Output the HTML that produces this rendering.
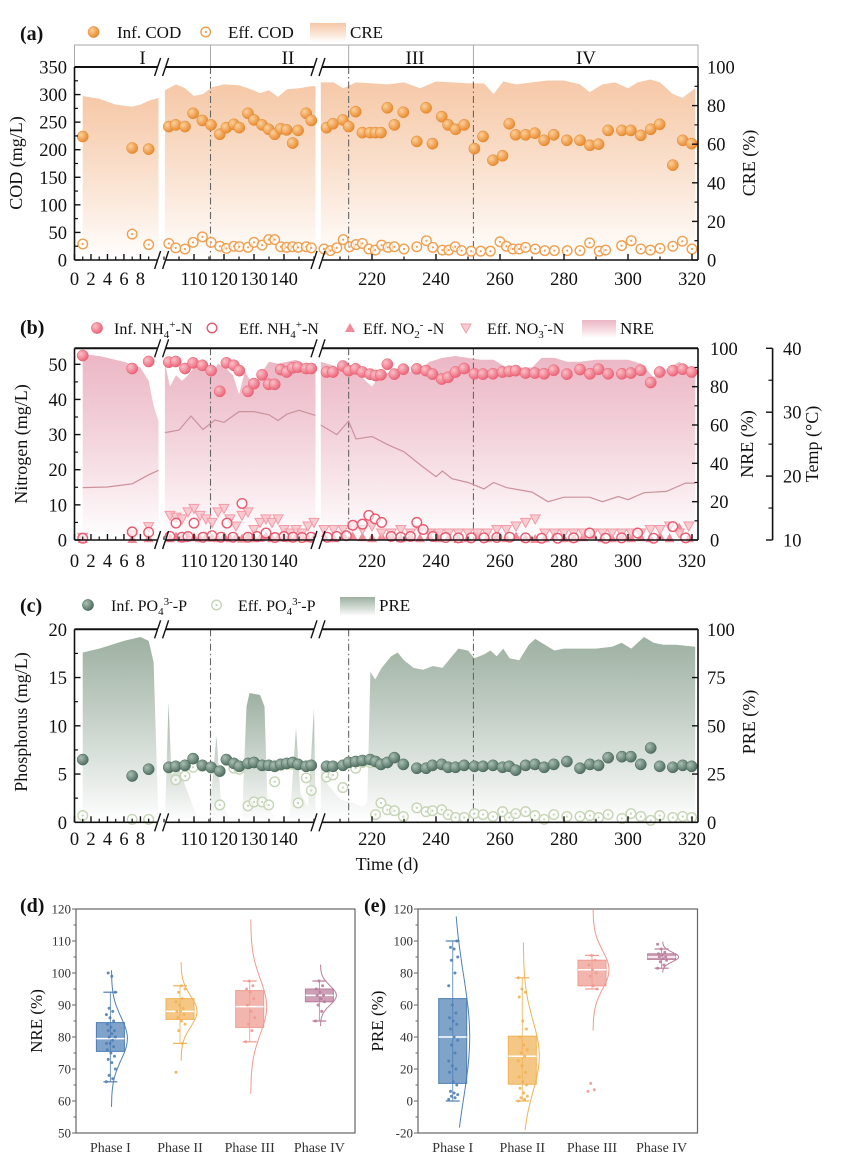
<!DOCTYPE html>
<html><head><meta charset="utf-8">
<style>
html,body{margin:0;padding:0;background:#fff;}
svg{display:block;font-family:"Liberation Serif",serif;}
</style></head>
<body>
<svg id="fig" xmlns="http://www.w3.org/2000/svg" width="852" height="1176" viewBox="0 0 852 1176">
<defs>
<linearGradient id="gCRE" x1="0" y1="0" x2="0" y2="1"><stop offset="0" stop-color="#f4bf98" stop-opacity="0.85"/><stop offset="1" stop-color="#ffffff" stop-opacity="1"/></linearGradient>
<linearGradient id="gNRE" x1="0" y1="0" x2="0" y2="1"><stop offset="0" stop-color="#e8aabb" stop-opacity="0.85"/><stop offset="1" stop-color="#ffffff" stop-opacity="1"/></linearGradient>
<linearGradient id="gPRE" x1="0" y1="0" x2="0" y2="1"><stop offset="0" stop-color="#93a898" stop-opacity="0.9"/><stop offset="1" stop-color="#ffffff" stop-opacity="1"/></linearGradient>
<radialGradient id="rOr" cx="0.35" cy="0.35" r="0.7"><stop offset="0" stop-color="#fcd09a"/><stop offset="1" stop-color="#e8862a"/></radialGradient>
<radialGradient id="rPk" cx="0.35" cy="0.35" r="0.7"><stop offset="0" stop-color="#fbc0c8"/><stop offset="1" stop-color="#ea5f74"/></radialGradient>
<radialGradient id="rGr" cx="0.35" cy="0.35" r="0.7"><stop offset="0" stop-color="#a9bfb2"/><stop offset="1" stop-color="#4b6a5c"/></radialGradient>
</defs>
</svg>
<script>
// ---------------- DATA ----------------
const infDays = [1,7,9, 101.6,103.9,107,109.7,112.8,115.7,118.6,120.8,123.3,125.1,128,130,132.7,134.9,136.9,138.9,140.9,142.9,144.7,147.4,149.1,
 205.8,207.8,210.9,212.7,214.9,217,219.4,221.1,222.8,224.8,227,229.8,234,236.9,238.9,241.8,243.8,246.1,248.8,252,254.7,257.8,260.8,262.9,264.9,268,270.9,273.8,276.8,280.9,285,288.1,290.8,293.8,298.1,300.9,304,307.1,309.9,314,317.1,319.9];
const infCOD = [224,203,201, 242,245,242,266,253,245,228,240,246,240,266,254,245,237,228,238,236,212,235,266,253,
 240,247,254,242,269,231,231,231,231,276,245,268,215,276,211,260,245,237,245,202,224,181,189,247,227,227,230,217,227,217,217,208,210,235,235,235,226,237,246,172,217,211];
const effCODDays = [1,7,9, 101.6,103.9,107,109.7,112.8,115.7,118.6,120.8,123.3,125.1,128,130,132.7,134.9,136.9,138.9,140.9,142.9,144.7,147.4,149.1,
 205,207,209,211,213,215,217,219,221,223,225,227,230,234,237,239,242,244,246,248,251,254,257,260,262,264,266,268,271,274,277,281,285,288,291,293,298,301,304,307,310,314,317,320];
const effCOD = [29,47,28, 30,22,20,32,42,32,25,21,25,24,23,32,27,37,37,24,23,24,23,24,22,
 20,17,22,37,24,28,30,20,18,27,23,24,20,24,35,23,18,18,24,17,16,16,16,33,25,20,20,23,20,17,17,17,17,31,16,18,26,35,20,18,21,25,34,20];
const creDays = [1,3,5,7,8,9,10.2, 100.3,104,107,110,113,116,120,125,128,132,135,138,141,145,149,150.5,
 204,208,211,215,220,225,230,235,240,245,250,255,258,261,265,270,275,280,285,288,292,296,300,303,307,310,314,317,321];
const creVals = [85,83.5,80.5,79.5,80.5,82.5,84, 88,91,89,85,86,89.5,91,90.5,89,86.5,88,84.5,88.5,89,90,90,
 92,92,89,92,91.5,91,92,89,92.5,92,91.5,91.5,86,92.5,91,92,93,93,91,87,91,92,89,92,93.5,92,86,84,89];

const infNH4 = [52.5,48.8,50.8, 50.6,50.8,48.8,50.4,49.7,48.2,42.3,50.4,49.7,48.2,42.3,44.5,47,44.3,44.3,48.5,47.8,49,49.2,48.8,48.8,
 47.8,47.8,49.5,48.2,48.7,47.8,47.2,46.8,47,50,47.2,48.6,48.7,48.2,47.2,45.8,46.3,47.8,48.8,47.3,47.2,47.3,47.8,48,48.2,47.5,47.5,47.3,48.3,47.2,48.5,47.3,48.6,47.3,47.3,47.5,48.3,44.8,47.8,48.2,48.6,47.8];
const effNH4Days = [1,7,9, 102,104,106,108,110,113,116,119,121,123,126,128,131,134,137,140,143,146,149,
 206,209,212,214,217,219,221,223,226,229,232,234,236,239,243,247,251,255,259,263,268,273,278,283,288,293,298,303,308,314,318];
const effNH4 = [0.5,2.3,2.2, 1,4.8,0.8,1,4.8,0.8,1.2,0.8,4.8,0.8,10.4,0.8,1,2,0.7,1,0.8,0.7,0.8,
 0.8,1,1.2,4.2,4.5,7,6,5,1,0.8,1,5,3,1,0.7,0.6,0.6,0.6,0.7,0.8,0.6,0.5,0.5,0.6,2,0.5,0.6,2,0.5,3.8,0.6];
const noxDays = [1,7,9, 102,104,106,108,110,112,114,116,118,120,122,124,126,128,130,132,134,136,138,140,142,144,146,148,150,
 205,208,211,214,217,220,223,226,229,232,235,238,241,244,247,250,253,256,259,262,265,268,271,274,277,280,283,286,289,292,295,298,301,304,307,310,313,316,319];
const effNO3 = [0.8,1.5,3.8, 7,6.5,6,8,9,7,6,5,8,9,6,4,7,8,3,5,6,5,6,3,2,3,2,4,5,
 3,3,3,4,3,4,2,2,3,2,3,2,2,2,2,2,2,2,3,3,4,5,6,2,2,2,2,2,2,2,2,2,2,2,3,3,4,2,4];
const effNO2 = [0.3,0.3,0.5, 0.5,1,0.5,1.2,0.8,0.5,1,0.6,0.5,1,0.5,0.8,0.4,1,0.5,0.6,1,0.5,0.7,1,0.5,0.8,1,0.5,0.6,
 1,0.5,1.5,1,0.8,0.5,1,1.2,0.5,0.8,0.5,1,0.5,0.8,0.3,0.5,1,0.5,0.8,0.5,1,0.5,0.3,0.5,1,0.5,0.5,0.8,1.5,0.5,0.5,1,0.5,0.8,0.5,1,0.5,3.5,0.5];
const nreDays = [1,3,6,8,9,9.6,10.2, 100.3,102,104,106,108,110,113,116,118,121,123,125,127,130,132,135,138,141,144,148,150.5,
 204,208,212,215,218,220,222,226,230,235,238,242,246,250,254,258,262,266,270,273,277,281,285,290,295,300,304,308,312,316,319,321];
const nreVals = [97,96,93,90,83,70,62, 92,80,86,83,86,90,91,86,92,89,86,76,88,80,86,93,92,93,94,90,92,
 93,91,88,88,83,80,85,88,87,89,93,95,96,95,94,94,90,90,90,95,95,93,93,94,94,94,92,85,89,93,90,88];
const tempDays = [1,4,7,9,10.2, 100.3,105,109,113,117,120,125,130,135,138,141,145,150.5,
 204,209,212.7,215,220,225,230,235,240,242,245,250,255,258,262,270,275,280,288,292,297,300,305,312,318,321];
const tempVals = [18.2,18.3,18.8,20.2,20.9, 26.8,27.2,29.4,27.3,28.8,28.4,30.1,30.1,29.6,28.7,29.7,30.3,29.5,
 28.0,26.5,28.6,25.8,26.2,24.9,23.8,21.8,19.9,20.8,19.6,19.0,18.0,19.0,18.2,17.5,16.0,16.7,16.7,16.0,16.8,16.3,17.4,17.6,18.9,18.9];

const infPO4 = [6.5,4.8,5.5, 5.7,5.8,5.9,6.6,5.9,5.7,5.3,6.5,6.1,5.8,6.1,6.2,5.9,5.9,5.8,6.0,6.1,6.2,6.0,5.8,5.9,
 5.8,5.8,5.9,6.2,6.3,6.4,6.5,6.3,6.0,6.2,6.7,6.0,5.6,5.6,5.9,6.0,5.7,5.7,5.9,5.8,5.8,5.9,5.7,5.8,5.4,5.9,6.0,5.7,6.0,6.3,5.6,6.0,5.9,6.7,6.8,6.8,6.0,7.7,5.8,5.7,5.9,5.8];
const effPO4 = [0.7,0.3,0.3, 5.6,4.4,4.8,5.7,5.8,5.6,1.8,6.4,5.6,5.5,1.7,2.1,2.1,1.8,4.2,5.9,6.0,6.0,2.0,4.6,3.3,
 4.7,4.9,3.6,6.2,5.6,6.2,6.2,0.8,2.0,1.3,1.2,0.6,1.5,1.1,1.2,1.3,0.8,0.5,0.5,0.9,0.8,0.6,1.1,0.5,0.9,1.1,0.7,0.3,0.8,0.6,0.6,0.7,0.5,0.8,0.4,0.9,0.6,0.2,0.7,0.5,0.6,0.5];
const preDays = [1,3,6,8,9,9.6,10.2, 100.3,101.5,102.5,105,108,111,115,117.5,119,122,126,127.5,128.5,132,133.5,134.5,137,142,144,145.5,148,150,150.5,
 204,206,210,214,217,218.5,219.5,221,223,226,228,230,233,236,239,242,245,247,250,252,255,257,259,261,263,266,269,271,274,277,280,285,290,295,298,301,305,308,311,315,321];
const preVals = [88,90,94,96,94,83,0, 0,62,25,28,15,3,3,45,10,2,2,60,67,66,60,10,2,3,49,15,8,59,10,
 30,20,12,10,8,10,78,74,80,86,88,84,80,79,81,80,86,90,89,85,87,89,86,90,85,84,92,95,92,89,90,90,90,91,93,90,96,93,92,92,91];

// box plots
const phases = ["Phase I","Phase II","Phase III","Phase IV"];
const nreQ1 = [75.5,85.5,83,91], nreMed=[79.5,88,89.5,93], nreQ3=[84.5,92,94.5,95], nreLo=[66,78,78.5,85], nreHi=[94,96,97.5,97.5];
const preQ1 = [11,10.5,72,88.5], preMed=[40,28,82,90], preQ3=[64,40.5,88,92], preLo=[0,0,70,83], preHi=[100,77,91,95];
const nrePts = [[66,67,68,70,72,73,74,75,76,77,78,78,79,80,80,81,82,82,83,84,85,86,87,88,89,94,99,100],
 [69,78,82,84,85,86,87,88,88,89,90,91,92,94,95,96],
 [78.5,82,84,86,88,90,92,94,95,96,97.5],
 [85,88,90,91,92,93,93,94,95,96,97.5]];
const prePts = [[1,2,3,4,5,6,10,12,18,20,22,25,30,35,38,40,45,48,50,52,55,60,72,80,88,90,95,96,100],
 [0,1,2,3,5,8,10,12,15,18,22,25,28,30,32,35,40,45,50,65,68,70,77],
 [6,7,11,70,72,78,80,82,85,88,91],
 [83,85,87,88,89,90,90,91,92,93,95,98]];
const dividerDays = [115.5,212.7,251.7];

// ---------------- HELPERS ----------------
const NS='http://www.w3.org/2000/svg';
const svg=document.getElementById('fig');
const TF=18.5;
function mk(tag, attrs, parent){const e=document.createElementNS(NS,tag);for(const k in attrs)e.setAttribute(k,attrs[k]);(parent||svg).appendChild(e);return e;}
function grp(name){const g=mk('g',{});return g;}
function txt(x,y,s,o,parent){const t=mk('text',Object.assign({x:x,y:y,'font-size':17,fill:'#111'},o||{}),parent);t.textContent=s;return t;}
function X(d){ if(d<50) return 74.5+d*8.24; if(d<180) return 194+(d-110)*3; return 372+(d-220)*3.2; }
function segOf(d){return d<50?0:(d<180?1:2);}
const L=74.5,R=698;
const yA=v=>260-v*(193/350), yAR=p=>260-p*1.93;
const yB=v=>540-v*3.514, yBR=p=>540-p*1.917, yT=t=>540-(t-10)*6.39;
const yC=v=>822.3-v*9.65, yCR=p=>822.3-p*1.93;

function area(days,vals,yf,base,fill,name){
  const g=grp(name);
  for(let s=0;s<3;s++){
    const pts=[];
    for(let i=0;i<days.length;i++) if(segOf(days[i])===s) pts.push([X(days[i]),yf(vals[i])]);
    if(!pts.length) continue;
    let d='M'+pts[0][0]+','+base;
    pts.forEach(p=>d+=' L'+p[0].toFixed(1)+','+p[1].toFixed(1));
    d+=' L'+pts[pts.length-1][0]+','+base+' Z';
    const p=mk('path',{d:d,fill:fill,stroke:'none'},g);
    
    
  }
}
function line(days,vals,yf,color,name){
  const g=grp(name);
  for(let s=0;s<3;s++){
    const pts=[];
    for(let i=0;i<days.length;i++) if(segOf(days[i])===s) pts.push([X(days[i]),yf(vals[i])]);
    if(!pts.length) continue;
    const p=mk('polyline',{points:pts.map(q=>q[0].toFixed(1)+','+q[1].toFixed(1)).join(' '),fill:'none',stroke:color,'stroke-width':1.2},g);
    
    
  }
}
function marker(type,x,y,parent,c){
  let e;
  if(type==='fill'){ e=mk('circle',{cx:x,cy:y,r:5.6,fill:c.fill,stroke:c.stroke,'stroke-width':0.5},parent); }
  else if(type==='open'){ e=mk('g',{},parent);
    mk('circle',{cx:x,cy:y,r:4.8,fill:'#fff','fill-opacity':0.6,stroke:c.stroke,'stroke-width':1.4},e);
    if(c.dot) mk('circle',{cx:x,cy:y,r:1.1,fill:c.stroke},e); }
  else if(type==='tri'){ e=mk('path',{d:`M${x},${y-5} L${x+5},${y+4} L${x-5},${y+4} Z`,fill:c.fill,stroke:'none'},parent); }
  else { e=mk('path',{d:`M${x-5},${y-4} L${x+5},${y-4} L${x},${y+5} Z`,fill:c.fill,stroke:c.stroke,'stroke-width':1,'fill-opacity':0.8},parent); }
  return e;
}
function scatter(days,vals,yf,type,c,name){
  const g=grp(name);
  for(let i=0;i<days.length;i++){
    const m=marker(type,X(days[i]),yf(vals[i]),g,c);
    
    
  }
}
function dividers(top,bot){
  const g=grp('phase-dividers');
  dividerDays.forEach(d=>{
    const l=mk('line',{x1:X(d),x2:X(d),y1:top,y2:bot,stroke:'#666','stroke-width':1.1,'stroke-dasharray':'7 3 1.5 3'},g);
    
    
  });
}
function frame(top,bot,name,showLabels,labelY){
  const g=grp(name);
  mk('line',{x1:L,x2:R,y1:top,y2:top,stroke:'#111','stroke-width':2},g);
  mk('line',{x1:L,x2:R,y1:bot,y2:bot,stroke:'#111','stroke-width':1.6},g);
  mk('line',{x1:L,x2:L,y1:top,y2:bot,stroke:'#111','stroke-width':1.6},g);
  mk('line',{x1:R,x2:R,y1:top,y2:bot,stroke:'#111','stroke-width':1.6},g);
  [161.6,318].forEach(bx=>{
    [top,bot].forEach(by=>{
      mk('rect',{x:bx-4,y:by-3,width:8,height:6,fill:'#fff'},g);
      mk('line',{x1:bx-7,y1:by+9,x2:bx-1,y2:by-9,stroke:'#111','stroke-width':1.4},g);
      mk('line',{x1:bx+1,y1:by+9,x2:bx+7,y2:by-9,stroke:'#111','stroke-width':1.4},g);
    });
  });
  const majors=[0,2,4,6,8,110,120,130,140,220,240,260,280,300,320];
  const minors=[1,3,5,7,9,100,105,115,125,135,145,150,210,230,250,270,290,310];
  majors.forEach(d=>mk('line',{x1:X(d),x2:X(d),y1:bot,y2:bot-6,stroke:'#111','stroke-width':1.4},g));
  minors.forEach(d=>mk('line',{x1:X(d),x2:X(d),y1:bot,y2:bot-3.5,stroke:'#111','stroke-width':1.2},g));
  if(showLabels){
    majors.forEach(d=>{const t=txt(X(d),labelY,String(d),{'text-anchor':'middle','font-size':TF},g);
      });
  }
}
function yTicks(vals,yf,x,side,labelX,anchor,name,minorVals,size){
  const g=grp(name);
  const dir=side==='in-left'?1:-1;
  vals.forEach(v=>{
    mk('line',{x1:x,x2:x+dir*6,y1:yf(v),y2:yf(v),stroke:'#111','stroke-width':1.4},g);
    const t=txt(labelX,yf(v)+6.5,String(v),{'text-anchor':anchor,'font-size':size||TF},g);
    
  });
  (minorVals||[]).forEach(v=>mk('line',{x1:x,x2:x+dir*3.5,y1:yf(v),y2:yf(v),stroke:'#111','stroke-width':1.2},g));
}
function vtitle(x,y,s,name,size){
  const t=txt(x,y,s,{'text-anchor':'middle','font-size':size||18,transform:`rotate(-90 ${x} ${y})`});
  return t;
}

// ---------------- PANEL A ----------------
(function(){
  const lab=txt(20,40,'(a)',{'font-weight':'bold','font-size':20});
  
  const lg=grp('legend-a');
  let m=marker('fill',93.6,32,lg,{fill:'url(#rOr)',stroke:'#e08a30'});
  let t=txt(117,38,'Inf. COD',{},lg);
  m=marker('open',205.7,32,lg,{stroke:'#f0a050',dot:true});
  t=txt(228,38,'Eff. COD',{},lg);
  const r=mk('rect',{x:310,y:23,width:36,height:19,fill:'url(#gCRE)'},lg);
  t=txt(350,38,'CRE',{},lg);
  const pb=grp('phase-band');
  mk('rect',{x:L,y:45,width:R-L,height:22,fill:'#fff',stroke:'#aaa','stroke-width':1},pb);
  dividerDays.forEach(d=>mk('line',{x1:X(d),x2:X(d),y1:45,y2:67,stroke:'#aaa','stroke-width':1},pb));
  [['I',142.5],['II',288],['III',415],['IV',586]].forEach(p=>{const tt=txt(p[1],64,p[0],{'text-anchor':'middle','font-size':19},pb);
    });
  area(creDays,creVals,yAR,260,'url(#gCRE)','cre-area');
  dividers(67,260);
  scatter(effCODDays,effCOD,yA,'open',{stroke:'#f0a050',dot:true},'eff-cod');
  scatter(infDays,infCOD,yA,'fill',{fill:'url(#rOr)',stroke:'#e08a30'},'inf-cod');
  frame(67,260,'axes-a',true,285);
  yTicks([0,50,100,150,200,250,300,350],yA,L,'in-left',67,'end','y-axis-left-a',[25,75,125,175,225,275,325]);
  yTicks([0,20,40,60,80,100],yAR,R,'in-right',707,'start','y-axis-right-a',[10,30,50,70,90]);
  vtitle(22,163,'COD (mg/L)','y-axis-title-a');
  vtitle(755,163,'CRE (%)','y-axis-title-right-a');
})();

// ---------------- PANEL B ----------------
(function(){
  const lab=txt(20,334,'(b)',{'font-weight':'bold','font-size':20});
  
  const lg=grp('legend-b');
  let m=marker('fill',97,328,lg,{fill:'url(#rPk)',stroke:'#e86070'});
  let t=mk('text',{x:114,y:334,'font-size':16,fill:'#111'},lg);t.innerHTML='Inf. NH<tspan font-size="11" dy="4">4</tspan><tspan font-size="11" dy="-10">+</tspan><tspan dy="6">-N</tspan>';
  
  m=marker('open',212,328,lg,{stroke:'#e85a70'});
  t=mk('text',{x:239,y:334,'font-size':16,fill:'#111'},lg);t.innerHTML='Eff. NH<tspan font-size="11" dy="4">4</tspan><tspan font-size="11" dy="-10">+</tspan><tspan dy="6">-N</tspan>';
  
  m=marker('tri',350,328,lg,{fill:'#f28a98'});
  t=mk('text',{x:363,y:334,'font-size':16,fill:'#111'},lg);t.innerHTML='Eff. NO<tspan font-size="11" dy="4">2</tspan><tspan font-size="11" dy="-10">-</tspan><tspan dy="6"> -N</tspan>';
  
  m=marker('dtri',466,328,lg,{fill:'#f8c0c8',stroke:'#f29aa6'});
  t=mk('text',{x:487,y:334,'font-size':16,fill:'#111'},lg);t.innerHTML='Eff. NO<tspan font-size="11" dy="4">3</tspan><tspan font-size="11" dy="-10">-</tspan><tspan dy="6">-N</tspan>';
  
  const r=mk('rect',{x:582,y:320,width:34,height:18,fill:'url(#gNRE)'},lg);
  t=txt(620,334,'NRE',{},lg);

  area(nreDays,nreVals,yBR,540,'url(#gNRE)','nre-area');
  dividers(348.3,540);
  line(tempDays,tempVals,yT,'#cc929c','temperature-line');
  scatter(noxDays,effNO2,yB,'tri',{fill:'#f28a98'},'eff-no2');
  scatter(noxDays,effNO3,yB,'dtri',{fill:'#f8c0c8',stroke:'#f29aa6'},'eff-no3');
  scatter(effNH4Days,effNH4,yB,'open',{stroke:'#e85a70'},'eff-nh4');
  scatter(infDays,infNH4,yB,'fill',{fill:'url(#rPk)',stroke:'#e86070'},'inf-nh4');
  frame(348.3,540,'axes-b',true,567);
  yTicks([0,10,20,30,40,50],yB,L,'in-left',67,'end','y-axis-left-b',[5,15,25,35,45]);
  yTicks([0,20,40,60,80,100],yBR,R,'in-right',710,'start','y-axis-right-b',[10,30,50,70,90]);
  const tg=grp('temp-axis');
  mk('line',{x1:772.6,x2:772.6,y1:348.3,y2:540,stroke:'#111','stroke-width':1.6},tg);
  [10,20,30,40].forEach(v=>{mk('line',{x1:772.6,x2:766,y1:yT(v),y2:yT(v),stroke:'#111','stroke-width':1.4},tg);
    const tt=txt(783,yT(v)+6.5,String(v),{'font-size':TF},tg);});
  [15,25,35].forEach(v=>mk('line',{x1:772.6,x2:768.5,y1:yT(v),y2:yT(v),stroke:'#111','stroke-width':1.2},tg));
  vtitle(27,444,'Nitrogen (mg/L)','y-axis-title-b');
  vtitle(753,444,'NRE (%)','y-axis-title-right-b');
  vtitle(818,444,'Temp (°C)','temp-axis-title');
})();

// ---------------- PANEL C ----------------
(function(){
  const lab=txt(20,612,'(c)',{'font-weight':'bold','font-size':20});
  
  const lg=grp('legend-c');
  let m=marker('fill',88,605,lg,{fill:'url(#rGr)',stroke:'#4b6a5c'});
  let t=mk('text',{x:111,y:611,'font-size':16,fill:'#111'},lg);t.innerHTML='Inf. PO<tspan font-size="11" dy="4">4</tspan><tspan font-size="11" dy="-10">3-</tspan><tspan dy="6">-P</tspan>';
  
  m=marker('open',216.5,605,lg,{stroke:'#c5d5b5',dot:true});
  t=mk('text',{x:238,y:611,'font-size':16,fill:'#111'},lg);t.innerHTML='Eff. PO<tspan font-size="11" dy="4">4</tspan><tspan font-size="11" dy="-10">3-</tspan><tspan dy="6">-P</tspan>';
  
  const r=mk('rect',{x:340,y:597,width:35,height:19,fill:'url(#gPRE)'},lg);
  t=txt(379,611,'PRE',{},lg);

  area(preDays,preVals,yCR,822.3,'url(#gPRE)','pre-area');
  dividers(629.3,822.3);
  scatter(infDays,effPO4,yC,'open',{stroke:'#c5d5b5',dot:true},'eff-po4');
  scatter(infDays,infPO4,yC,'fill',{fill:'url(#rGr)',stroke:'#4b6a5c'},'inf-po4');
  frame(629.3,822.3,'axes-c',true,845);
  yTicks([0,5,10,15,20],yC,L,'in-left',67,'end','y-axis-left-c',[2.5,7.5,12.5,17.5]);
  yTicks([0,25,50,75,100],yCR,R,'in-right',707,'start','y-axis-right-c',[]);
  vtitle(27,722,'Phosphorus (mg/L)','y-axis-title-c');
  vtitle(755,722,'PRE (%)','y-axis-title-right-c');
  const xt=txt(387,870,'Time (d)',{'text-anchor':'middle','font-size':18});
  
})();

// ---------------- BOX PANELS ----------------
const boxColors=['#4f7fb5','#f0b256','#ef9a90','#b97c9b'];
function boxPanel(cfg){
  const {l,r,top,bot,vmin,vmax,ticks,cats,q1,med,q3,lo,hi,pts,title,name,labX,tx}=cfg;
  const yf=v=>bot-(v-vmin)/(vmax-vmin)*(bot-top);
  const g=grp(name);
  const fr=mk('rect',{x:l,y:top,width:r-l,height:bot-top,fill:'none',stroke:'#666','stroke-width':1.2},g);
  
  ticks.forEach(v=>{mk('line',{x1:l,x2:l-4,y1:yf(v),y2:yf(v),stroke:'#666','stroke-width':1},g);
    const t=txt(l-5,yf(v)+4.5,String(v),{'text-anchor':'end','font-size':13,fill:'#333'},g);
    });
  for(let k=0;k<ticks.length-1;k++){const mv=(ticks[k]+ticks[k+1])/2;mk('line',{x1:l,x2:l-2.5,y1:yf(mv),y2:yf(mv),stroke:'#666','stroke-width':1},g);}
  phases.forEach((p,i)=>{
    const cx=cats[i], col=boxColors[i];
    const bg=grp('box-'+p.toLowerCase().replace(' ','-'));
    g.appendChild(bg);
    const m=med[i], s=Math.max((q3[i]-q1[i])/1.35,3);
    let d='';
    for(let k=0;k<=40;k++){const v=m-3.2*s+k*(6.4*s)/40; if(v<vmin||v>vmax) continue;
      const xx=cx+1+16*Math.exp(-0.5*((v-m)/s)**2); d+=(d?' L':'M')+xx.toFixed(1)+','+yf(v).toFixed(1);}
    const cv=mk('path',{d:d,fill:'none',stroke:col,'stroke-width':1},bg);
    
    mk('line',{x1:cx,x2:cx,y1:yf(hi[i]),y2:yf(lo[i]),stroke:col,'stroke-width':1,'stroke-opacity':0.8},bg);
    mk('line',{x1:cx-7,x2:cx+7,y1:yf(hi[i]),y2:yf(hi[i]),stroke:col,'stroke-width':1.2},bg);
    mk('line',{x1:cx-7,x2:cx+7,y1:yf(lo[i]),y2:yf(lo[i]),stroke:col,'stroke-width':1.2},bg);
    const b=mk('rect',{x:cx-14,y:yf(q3[i]),width:28,height:yf(q1[i])-yf(q3[i]),fill:col,'fill-opacity':0.72,stroke:col,'stroke-width':1},bg);
    
    const ml=mk('line',{x1:cx-14,x2:cx+14,y1:yf(med[i]),y2:yf(med[i]),stroke:'#fff','stroke-width':1.5},bg);
    
    pts[i].forEach((v,j)=>{const c=mk('circle',{cx:cx-4+((j*7)%11)*0.9,cy:yf(v),r:1.5,fill:col,'fill-opacity':0.9},bg);
      });
    const t=txt(cx,1152,p,{'text-anchor':'middle','font-size':14,fill:'#333'},bg);
    
  });
  vtitle(tx,(top+bot)/2,title,name+'-y-title',17);
  const lb=txt(labX,912,name==='panel-d'?'(d)':'(e)',{'font-weight':'bold','font-size':20});
  
}
boxPanel({l:76,r:355,top:909,bot:1133,vmin:50,vmax:120,ticks:[50,60,70,80,90,100,110,120],cats:[110.4,180,249.7,319.4],
  q1:nreQ1,med:nreMed,q3:nreQ3,lo:nreLo,hi:nreHi,pts:nrePts,title:'NRE (%)',name:'panel-d',labX:20,tx:42});
boxPanel({l:418,r:697.5,top:909,bot:1133,vmin:-20,vmax:120,ticks:[-20,0,20,40,60,80,100,120],cats:[452.7,522.3,592,661.6],
  q1:preQ1,med:preMed,q3:preQ3,lo:preLo,hi:preHi,pts:prePts,title:'PRE (%)',name:'panel-e',labX:364,tx:383});
</script>
</body></html>
